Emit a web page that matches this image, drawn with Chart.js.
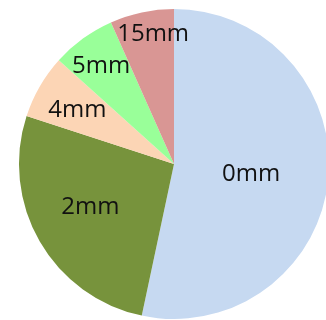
<!DOCTYPE html>
<html>
<head>
<meta charset="utf-8">
<script src="https://cdn.jsdelivr.net/npm/chart.js@4.4.1/dist/chart.umd.min.js"></script>
<style>
  html, body { margin: 0; padding: 0; background: #fff; overflow: hidden; }
  #wrap { width: 326px; height: 320px; overflow: hidden; }
</style>
</head>
<body>
<div id="wrap"><canvas id="pie" width="350" height="320"></canvas></div>
<script>
// slice names and counts, clockwise from 12 o'clock
const categories = ['0mm', '2mm', '4mm', '5mm', '15mm'];
const counts = [8, 4, 1, 1, 1];

const sliceColors = ['#c6d9f1', '#77933c', '#fcd5b5', '#99ff99', '#d99694'];
// label placement: fraction of radius, and a small turn (degrees) off the slice middle
const labelDist = [0.5, 0.6, 0.72, 0.8, 0.86];
const labelTurn = [0, 4, 0, 0, 3];

// draws the category name inside each slice
const sliceLabels = {
    id: 'sliceLabels',
    afterDatasetsDraw(chart) {
        const ctx = chart.ctx;
        const meta = chart.getDatasetMeta(0);
        ctx.save();
        ctx.font = '24px "Open Sans", sans-serif';
        ctx.fillStyle = '#111';
        ctx.textAlign = 'center';
        ctx.textBaseline = 'middle';
        meta.data.forEach((arc, i) => {
            const p = arc.getProps(['x', 'y', 'startAngle', 'endAngle', 'outerRadius'], true);
            const mid = (p.startAngle + p.endAngle) / 2 + labelTurn[i] * Math.PI / 180;
            const r = p.outerRadius * labelDist[i];
            ctx.fillText(categories[i], p.x + Math.cos(mid) * r, p.y + Math.sin(mid) * r + 2);
        });
        ctx.restore();
    }
};

new Chart(document.getElementById('pie'), {
    type: 'pie',
    data: {
        labels: categories,
        datasets: [{
            data: counts,
            backgroundColor: sliceColors,
            borderWidth: 0
        }]
    },
    options: {
        responsive: false,
        animation: false,
        layout: { padding: { left: 19, right: 21, top: 9, bottom: 1 } },
        plugins: { legend: { display: false }, tooltip: { enabled: false } }
    },
    plugins: [sliceLabels]
});
</script>
</body>
</html>
